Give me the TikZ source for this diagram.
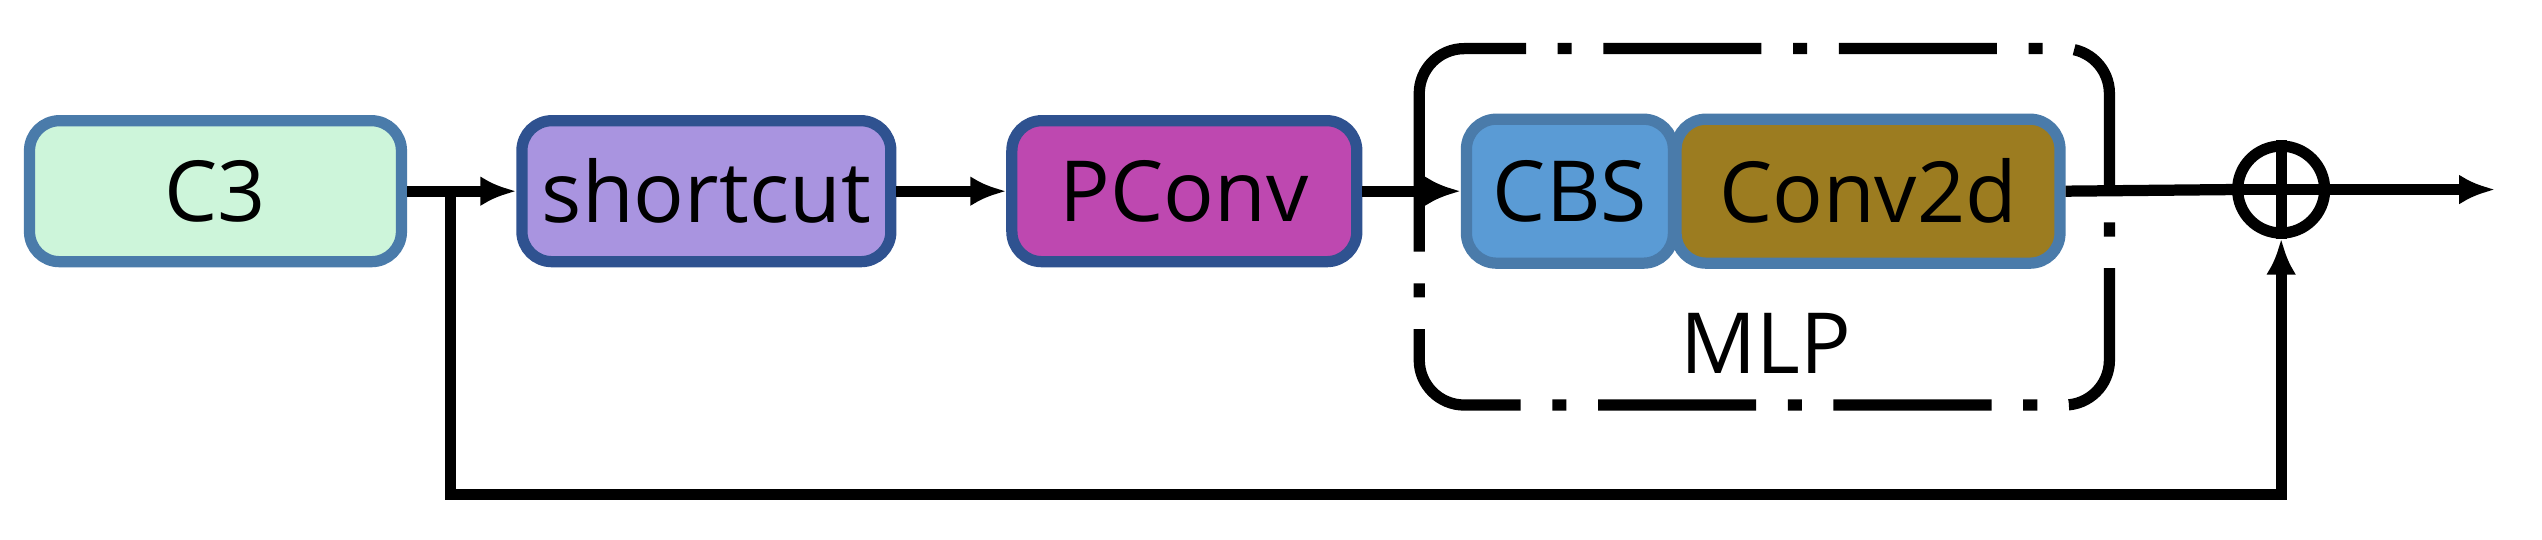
\documentclass[tikz,border=0pt]{standalone}
\usepackage{fontspec}
\setmainfont{Open Sans}[FontFace={sb}{n}{* Semibold}]
\usetikzlibrary{arrows.meta}
\begin{document}
\begin{tikzpicture}[x=0.0162cm,y=-0.0162cm,
 blk/.style={draw=#1,line width=3.2pt,rounded corners=0.3cm,inner sep=0,font=\fontsize{24}{24}\selectfont},
 arr/.style={line width=3.2pt,-{Latex[length=0.36cm,width=0.3cm]}},
 ln/.style={line width=3.2pt}]
\useasboundingbox (0,0) rectangle (1569,333);
\definecolor{cA}{HTML}{CDF5DA}\definecolor{cB}{HTML}{A994E0}\definecolor{cC}{HTML}{BE48B0}
\definecolor{cD}{HTML}{5A9BD5}\definecolor{cE}{HTML}{9C7C20}\definecolor{bd}{HTML}{2F5290}
\definecolor{bl}{HTML}{4A7BAA}
\node[blk=bl,fill=cA,minimum width=3.72cm,minimum height=1.41cm] (c3) at (133,118) {C3};
\node[blk=bd,fill=cB,minimum width=3.69cm,minimum height=1.41cm] (sc) at (436,118) {shortcut};
\node[blk=bd,fill=cC,minimum width=3.45cm,minimum height=1.41cm] (pc) at (731,118) {PConv};
\node[blk=bl,fill=cD,minimum width=2.07cm,minimum height=1.44cm] (cbs) at (969,118) {CBS};
\node[blk=bl,fill=cE,minimum width=3.84cm,minimum height=1.44cm] (cv) at (1153,118) {Conv2d};
\draw[line width=3.2pt,dash pattern=on 45pt off 9pt on 4pt off 9pt,rounded corners=0.45cm] (876,30) rectangle (1302,250);
\node[font=\fontsize{24}{24}\selectfont] (mlp) at (1090,212) {MLP};
\node[circle,draw,line width=3.2pt,minimum size=0.87cm,inner sep=0] (add) at (1408,117) {};
\draw[ln] (add.north)--(add.south) (add.west)--(add.east);
\coordinate (out) at (1540,117);
\coordinate (j) at (278,118);
\coordinate (b1) at (278,305);
\coordinate (b2) at (1408,305);
\draw[arr] (c3.east)--(sc.west);
\draw[arr] (sc.east)--(pc.west);
\draw[arr] (pc.east)--(cbs.west);
\draw[ln] (cv.east)--(add.west);
\draw[arr] (add.east)--(out);
\draw[arr] (j)--(b1)--(b2)--(add.south);
\end{tikzpicture}
\end{document}
